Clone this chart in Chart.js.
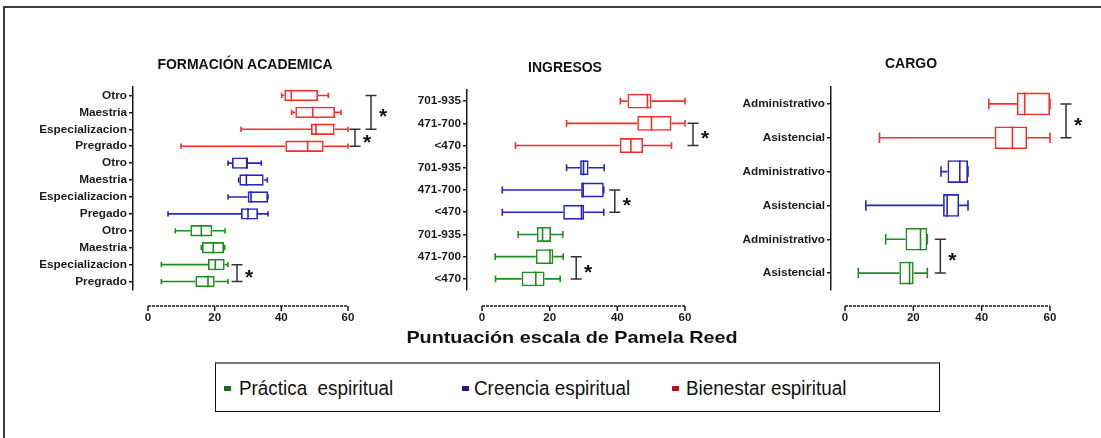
<!DOCTYPE html>
<html>
<head>
<meta charset="utf-8">
<script src="https://cdn.jsdelivr.net/npm/chart.js@4.4.1/dist/chart.umd.min.js"></script>
<style>
  body { margin: 0; background: #fff; font-family: "Liberation Sans", Arial, sans-serif; }
  #page { position: relative; width: 1101px; height: 438px; overflow: hidden; background: #fff; }
  #frame { position: absolute; left: 3px; top: 6px; width: 1120px; height: 460px; border: 2px solid #3c3c3c; }
  .panel { position: absolute; top: 0; }
  .ptitle { position: absolute; font-weight: bold; font-size: 14px; line-height: 16px; white-space: nowrap; transform: translateX(-50%); color: #111; }
  #xtitle { position: absolute; left: 572px; top: 327px; font-weight: bold; font-size: 16.5px; line-height: 20px; white-space: nowrap; transform: translateX(-50%) scaleX(1.2); color: #111; }
  #legend { position: absolute; left: 215px; top: 362px; width: 723px; height: 47px; border: 1px solid #111; border-top: 2px solid #7a7a7a; }
  .sq { position: absolute; top: 22px; width: 7px; height: 5px; }
  .lt { position: absolute; top: 12px; font-size: 20.5px; line-height: 24px; white-space: pre; color: #111; transform: scaleX(0.92); transform-origin: left center; }
</style>
</head>
<body>
<div id="page">
  <div id="frame"></div>
  <div class="panel" style="left:0px"><canvas id="c1" width="390" height="340"></canvas></div>
  <div class="panel" style="left:390px"><canvas id="c2" width="330" height="340"></canvas></div>
  <div class="panel" style="left:720px"><canvas id="c3" width="381" height="340"></canvas></div>
  <div class="ptitle" style="left:245px;top:56px">FORMACIÓN ACADEMICA</div>
  <div class="ptitle" style="left:565px;top:59px">INGRESOS</div>
  <div class="ptitle" style="left:911px;top:55px">CARGO</div>
  <div id="xtitle">Puntuación escala de Pamela Reed</div>
  <div id="legend">
    <div class="sq" style="left:8px;background:#1b6e1b"></div>
    <div class="lt" style="left:23px">Práctica  espiritual</div>
    <div class="sq" style="left:246px;background:#1c1c8a"></div>
    <div class="lt" style="left:258px">Creencia espiritual</div>
    <div class="sq" style="left:456px;background:#b01616"></div>
    <div class="lt" style="left:470px">Bienestar espiritual</div>
  </div>
</div>
<script>
// each row: [min, q1, median, q3, max]
const formacionLabels = ['Otro', 'Maestria', 'Especializacion', 'Pregrado',
  'Otro', 'Maestria', 'Especializacion', 'Pregado',
  'Otro', 'Maestria', 'Especializacion', 'Pregrado'];
const formacionBienestar = [[40.1, 40.9, 43.0, 51.0, 54.1], [43.1, 44.2, 49.4, 56.1, 57.9], [27.9, 48.9, 50.4, 56.0, 60], [9.9, 41.2, 47.9, 52.7, 60]];
const formacionCreencia = [[24.0, 25.2, 29.6, 30.0, 34.0], [27.2, 27.4, 29.5, 34.7, 35.8], [24.0, 29.9, 30.9, 36.0, 36.0], [6.0, 27.9, 30.0, 33.0, 36.0]];
const formacionPractica = [[8.2, 12.7, 16.0, 19.3, 23.1], [16.0, 16.2, 19.6, 22.8, 23.0], [4.0, 18.0, 20.2, 23.0, 24.0], [4.0, 14.2, 18.0, 20.0, 24.0]];
const formacionSig = [['bienestar', 2, 3], ['bienestar', 0, 2], ['practica', 2, 3]];

const ingresosLabels = ['701-935', '471-700', '<470', '701-935', '471-700', '<470', '701-935', '471-700', '<470'];
const ingresosBienestar = [[40.9, 43.0, 48.9, 50.1, 60], [25.0, 45.9, 50.1, 56.0, 60], [9.9, 40.7, 44.0, 47.6, 56.0]];
const ingresosCreencia = [[25.0, 29.0, 30.0, 31.5, 36.1], [6.0, 29.3, 29.9, 36.0, 36.0], [6.0, 24.0, 29.4, 30.2, 36.0]];
const ingresosPractica = [[10.7, 16.2, 17.9, 20.4, 23.9], [3.9, 15.9, 20.1, 21.1, 24.0], [4.0, 11.7, 15.9, 18.5, 23.1]];
const ingresosSig = [['bienestar', 1, 2], ['creencia', 1, 2], ['practica', 1, 2]];

const cargoLabels = ['Administrativo', 'Asistencial', 'Administrativo', 'Asistencial', 'Administrativo', 'Asistencial'];
const cargoBienestar = [[42.1, 50.3, 52.6, 60, 60], [10.1, 43.8, 49.0, 53.3, 60]];
const cargoCreencia = [[28.1, 30.0, 33.6, 36.0, 36.0], [6.1, 28.7, 29.9, 33.4, 36.0]];
const cargoPractica = [[11.9, 17.7, 22.1, 24.1, 24.1], [3.9, 15.9, 18.9, 20.1, 24.1]];
const cargoSig = [['bienestar', 0, 1], ['practica', 0, 1]];

const xTicks = [0, 20, 40, 60];

const RED = '#ff2b2b', BLUE = '#2424c8', GREEN = '#1f8c1f', INK = '#1a1a1a';

function whiskerPlugin(groups, sig, gaps, axisGap) {
  return {
    id: 'whiskers',
    afterDatasetsDraw(chart) {
      const { ctx, chartArea } = chart;
      const x = chart.scales.x, y = chart.scales.y;
      ctx.save();
      ctx.lineWidth = 1.6;
      chart.data.datasets.forEach((ds, di) => {
        const meta = chart.getDatasetMeta(di);
        ctx.strokeStyle = ds.borderColor;
        ds.stats.forEach((s, i) => {
          if (!s) return;
          const bar = meta.data[i];
          const yc = bar.y, h = bar.height;
          const [mn, q1, md, q3, mx] = s.map(v => x.getPixelForValue(v));
          ctx.beginPath();
          ctx.moveTo(mn, yc); ctx.lineTo(q1, yc);
          ctx.moveTo(q3, yc); ctx.lineTo(mx, yc);
          ctx.moveTo(mn, yc - h * 0.23); ctx.lineTo(mn, yc + h * 0.23);
          ctx.moveTo(mx, yc - h * 0.23); ctx.lineTo(mx, yc + h * 0.23);
          ctx.moveTo(md, yc - h / 2); ctx.lineTo(md, yc + h / 2);
          ctx.stroke();
        });
      });

      // x axis, drawn offset below the plot like the original
      const ay = chartArea.bottom + axisGap;
      ctx.strokeStyle = INK;
      ctx.lineWidth = 1.5;
      ctx.setLineDash([3, 1]);
      ctx.beginPath();
      ctx.moveTo(x.getPixelForValue(0), ay);
      ctx.lineTo(x.getPixelForValue(60), ay);
      ctx.stroke();
      ctx.setLineDash([]);
      ctx.beginPath();
      xTicks.forEach(t => {
        const px = x.getPixelForValue(t);
        ctx.moveTo(px, ay); ctx.lineTo(px, ay + 5);
      });
      ctx.stroke();

      // significance brackets
      ctx.strokeStyle = '#333';
      ctx.fillStyle = '#111';
      ctx.lineWidth = 1.5;
      ctx.font = 'bold 21px "Liberation Sans", Arial';
      ctx.textAlign = 'center';
      ctx.textBaseline = 'alphabetic';
      sig.forEach(([key, a, b], n) => {
        const g = groups.find(gr => gr.key === key);
        let maxPx = -Infinity;
        for (let r = Math.min(a, b); r <= Math.max(a, b); r++) {
          maxPx = Math.max(maxPx, x.getPixelForValue(g.stats[r][4]));
        }
        const bx = maxPx + gaps[n];
        const y1 = y.getPixelForValue(g.offset + a);
        const y2 = y.getPixelForValue(g.offset + b);
        ctx.beginPath();
        ctx.moveTo(bx, y1); ctx.lineTo(bx, y2);
        ctx.moveTo(bx - 5.5, y1); ctx.lineTo(bx + 5.5, y1);
        ctx.moveTo(bx - 5.5, y2); ctx.lineTo(bx + 5.5, y2);
        ctx.stroke();
        ctx.fillText('*', bx + 12, (y1 + y2) / 2 + 11);
      });
      ctx.restore();
    }
  };
}

function makeChart(id, g, labels, groups, sig, gaps) {
  let offset = 0;
  groups.forEach(gr => { gr.offset = offset; offset += gr.stats.length; });
  const datasets = groups.map(gr => {
    const data = labels.map(() => null);
    const stats = labels.map(() => null);
    gr.stats.forEach((s, i) => {
      data[gr.offset + i] = [s[1], s[3]];
      stats[gr.offset + i] = s;
    });
    return {
      label: gr.name,
      data: data,
      stats: stats,
      borderColor: gr.color,
      backgroundColor: 'rgba(255,255,255,0)',
      borderWidth: 1.6,
      borderSkipped: false,
      grouped: false,
      barPercentage: 0.67,
      categoryPercentage: 1
    };
  });
  const pxPerUnit = (g.x60 - g.x0) / 60;
  const canvas = document.getElementById(id);
  return new Chart(canvas.getContext('2d'), {
    type: 'bar',
    data: { labels: labels, datasets: datasets },
    options: {
      indexAxis: 'y',
      responsive: false,
      animation: false,
      layout: { padding: { top: g.top, right: canvas.width - (g.x60 - g.left), left: 0, bottom: 0 } },
      plugins: { legend: { display: false }, tooltip: { enabled: false } },
      scales: {
        x: {
          type: 'linear',
          min: -(g.x0 - g.axis) / pxPerUnit,
          max: 60,
          afterBuildTicks: s => { s.ticks = xTicks.map(v => ({ value: v })); },
          afterFit: s => { s.height = canvas.height - g.bottom; },
          grid: { display: false, drawTicks: false },
          border: { display: false },
          ticks: { padding: 21, color: INK, font: { family: '"Liberation Sans", Arial', size: 11.5, weight: 'bold' } }
        },
        y: {
          afterFit: s => { s.width = g.axis - g.left; },
          grid: { display: true, drawOnChartArea: false, drawTicks: true, tickLength: 4, offset: false, color: INK, lineWidth: 1.5 },
          border: { display: true, color: INK, width: 1.5, dash: [3, 1] },
          ticks: { autoSkip: false, padding: 2, color: INK, font: { family: '"Liberation Sans", Arial', size: 11.8, weight: 'bold' } }
        }
      }
    },
    plugins: [whiskerPlugin(groups, sig, gaps, 16)]
  });
}

makeChart('c1', { left: 0, axis: 133, x0: 148, x60: 348, top: 87, bottom: 290 }, formacionLabels, [
  { key: 'bienestar', name: 'Bienestar espiritual', stats: formacionBienestar, color: RED },
  { key: 'creencia', name: 'Creencia espiritual', stats: formacionCreencia, color: BLUE },
  { key: 'practica', name: 'Práctica espiritual', stats: formacionPractica, color: GREEN }
], formacionSig, [7, 23, 9]);

makeChart('c2', { left: 390, axis: 467, x0: 482, x60: 685, top: 90, bottom: 290 }, ingresosLabels, [
  { key: 'bienestar', name: 'Bienestar espiritual', stats: ingresosBienestar, color: RED },
  { key: 'creencia', name: 'Creencia espiritual', stats: ingresosCreencia, color: BLUE },
  { key: 'practica', name: 'Práctica espiritual', stats: ingresosPractica, color: GREEN }
], ingresosSig, [8, 11, 13]);

makeChart('c3', { left: 720, axis: 831, x0: 845, x60: 1050, top: 87, bottom: 290 }, cargoLabels, [
  { key: 'bienestar', name: 'Bienestar espiritual', stats: cargoBienestar, color: RED },
  { key: 'creencia', name: 'Creencia espiritual', stats: cargoCreencia, color: BLUE },
  { key: 'practica', name: 'Práctica espiritual', stats: cargoPractica, color: GREEN }
], cargoSig, [16, 13]);
</script>
</body>
</html>
